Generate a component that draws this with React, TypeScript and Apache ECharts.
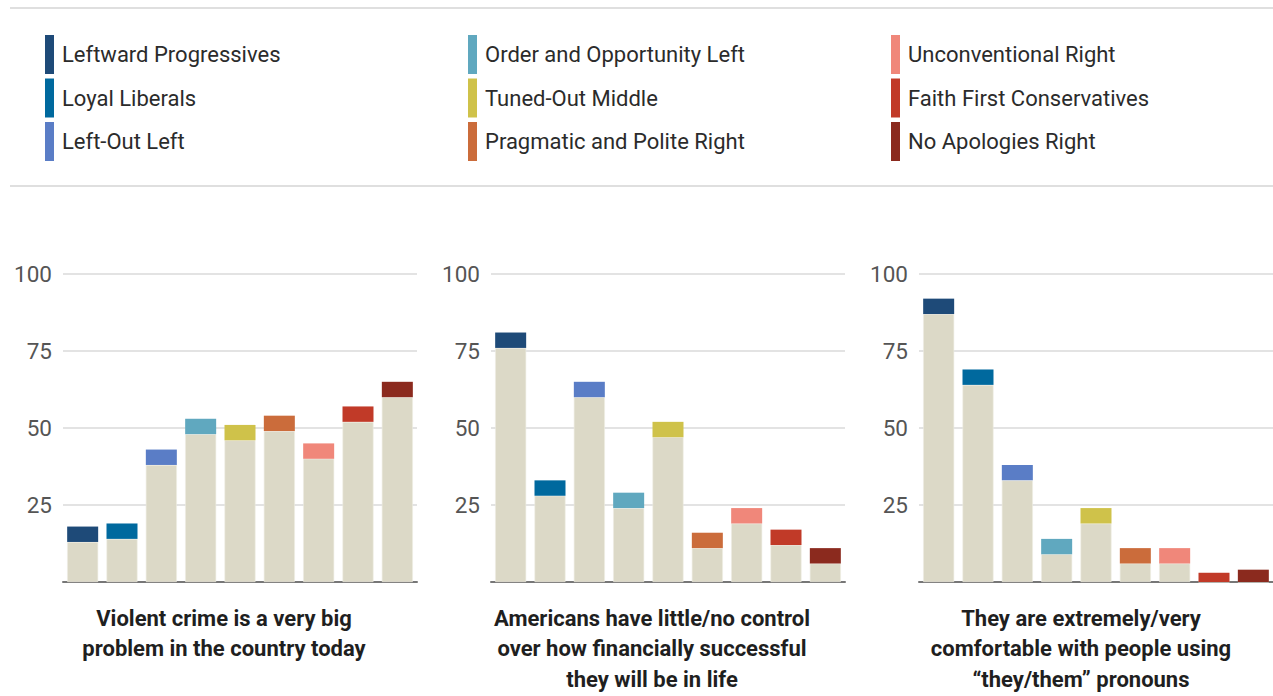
import React, { useEffect, useRef } from "react";
import * as echarts from "echarts";

const groups = [
  "Leftward Progressives",
  "Loyal Liberals",
  "Left-Out Left",
  "Order and Opportunity Left",
  "Tuned-Out Middle",
  "Pragmatic and Polite Right",
  "Unconventional Right",
  "Faith First Conservatives",
  "No Apologies Right",
];

const groupColors = [
  "#1E4A78",
  "#00699E",
  "#5A7DC6",
  "#60A8BF",
  "#CFC24A",
  "#CB6C3B",
  "#F0877A",
  "#C13A28",
  "#8B2A1E",
];

const panelTitles = [
  "Violent crime is a very big\nproblem in the country today",
  "Americans have little/no control\nover how financially successful\nthey will be in life",
  "They are extremely/very\ncomfortable with people using\n\u201cthey/them\u201d pronouns",
];

// bar totals (top of coloured cap) and beige base heights
const crimeTotals = [18, 19, 43, 53, 51, 54, 45, 57, 65];
const crimeBases = [13, 14, 38, 48, 46, 49, 40, 52, 60];
const controlTotals = [81, 33, 65, 29, 52, 16, 24, 17, 11];
const controlBases = [76, 28, 60, 24, 47, 11, 19, 12, 6];
const pronounTotals = [92, 69, 38, 14, 24, 11, 11, 3, 4];
const pronounBases = [87, 64, 33, 9, 19, 6, 6, 0, 0];

const yTicks = [0, 25, 50, 75, 100];

const panels = [
  { totals: crimeTotals, bases: crimeBases },
  { totals: controlTotals, bases: controlBases },
  { totals: pronounTotals, bases: pronounBases },
];

const BEIGE = "#DCD9C7";
const FONT = "Roboto, 'Noto Sans', sans-serif";

export default function App() {
  const ref = useRef<HTMLDivElement>(null);
  useEffect(() => {
    if (!ref.current) return;
    const chart = echarts.init(ref.current, null, { renderer: "svg" });

    const gridLeft = [63, 491, 919];
    const grids = gridLeft.map((l) => ({
      left: l,
      top: 274,
      width: 354,
      height: 308,
      containLabel: false,
    }));

    const xAxes = panels.map((_, i) => ({
      type: "category",
      gridIndex: i,
      data: groups,
      axisLine: { show: true, lineStyle: { color: "#777", width: 2 } },
      axisTick: { show: false },
      axisLabel: { show: false },
    }));

    const yAxes = panels.map((_, i) => ({
      type: "value",
      gridIndex: i,
      min: yTicks[0],
      max: yTicks[yTicks.length - 1],
      interval: 25,
      axisLine: { show: false },
      axisTick: { show: false },
      axisLabel: {
        fontSize: 22.5,
        color: "#555",
        fontFamily: FONT,
        margin: 11,
        formatter: (v: number) => (v === 0 ? "" : String(v)),
      },
      splitLine: { lineStyle: { color: "#DADADA", width: 1.5 } },
    }));

    const series: any[] = [];
    panels.forEach((p, i) => {
      series.push({
        type: "bar",
        name: "base" + i,
        xAxisIndex: i,
        yAxisIndex: i,
        stack: "s" + i,
        barWidth: 31,
        data: p.bases,
        itemStyle: { color: BEIGE, borderColor: "#EEECE2", borderWidth: 0.6 },
        silent: true,
      });
      series.push({
        type: "bar",
        name: "cap" + i,
        xAxisIndex: i,
        yAxisIndex: i,
        stack: "s" + i,
        barWidth: 31,
        data: p.totals.map((t, k) => ({
          value: t - p.bases[k],
          itemStyle: { color: groupColors[k] },
        })),
        silent: true,
      });
    });

    const graphics: any[] = [];
    // horizontal rules
    [8, 186].forEach((y) =>
      graphics.push({
        type: "line",
        shape: { x1: 10, y1: y, x2: 1273, y2: y },
        style: { stroke: "#D5D5D5", lineWidth: 1.5 },
      })
    );
    // legend
    const colX = [45, 468, 891];
    groups.forEach((g, k) => {
      const col = Math.floor(k / 3);
      const row = k % 3;
      const top = 35 + row * 43.5;
      graphics.push({
        type: "rect",
        shape: { x: colX[col], y: top, width: 9, height: 39 },
        style: { fill: groupColors[k] },
      });
      graphics.push({
        type: "text",
        x: colX[col] + 17,
        y: top + 19.5,
        style: {
          text: g,
          fontSize: 22,
          fontFamily: FONT,
          fill: "#2b2b2b",
          textVerticalAlign: "middle",
          textAlign: "left",
        },
      });
    });
    // panel titles
    const titleX = [224, 652, 1081];
    panelTitles.forEach((t, i) =>
      graphics.push({
        type: "text",
        x: titleX[i],
        y: 603,
        style: {
          text: t,
          fontSize: 22,
          fontWeight: "bold",
          fontFamily: FONT,
          fill: "#1f1f1f",
          textAlign: "center",
          textVerticalAlign: "top",
          lineHeight: 30.5,
        },
      })
    );

    chart.setOption({
      animation: false,
      backgroundColor: "#ffffff",
      grid: grids,
      xAxis: xAxes,
      yAxis: yAxes,
      series,
      graphic: graphics,
    });
    return () => chart.dispose();
  }, []);
  return (
    <div
      ref={ref}
      style={{ position: "absolute", left: 0, top: 0, width: 1273, height: 696 }}
    />
  );
}
